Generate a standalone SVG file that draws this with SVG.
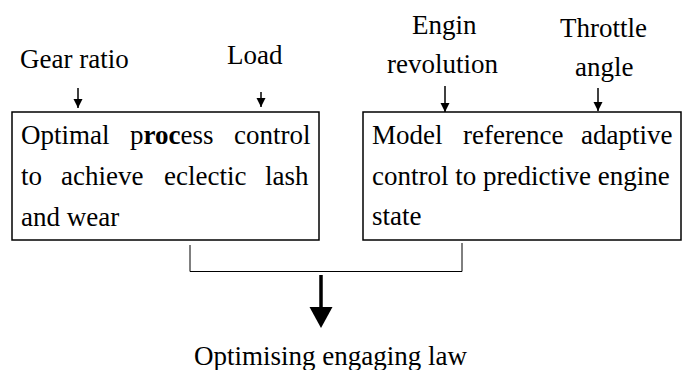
<svg xmlns="http://www.w3.org/2000/svg" width="682" height="370" viewBox="0 0 682 370">
<defs>
<marker id="ah" markerUnits="userSpaceOnUse" markerWidth="10" markerHeight="10" refX="9" refY="5" orient="auto">
<polygon points="0,0.5 9,5 0,9.5" fill="#000"/>
</marker>
<marker id="big" markerUnits="userSpaceOnUse" markerWidth="22" markerHeight="24" refX="0" refY="12" orient="auto">
<polygon points="0,0.5 21,12 0,23.5" fill="#000"/>
</marker>
</defs>
<rect width="682" height="370" fill="#fff"/>
<g id="inputs">
<text x="20" y="68" font-family="Liberation Serif" font-size="27" style="font-family:'Liberation Serif',serif">Gear ratio</text>
<text x="227" y="64" font-family="Liberation Serif" font-size="27" style="font-family:'Liberation Serif',serif">Load</text>
<text x="412" y="34" font-family="Liberation Serif" font-size="27" style="font-family:'Liberation Serif',serif">Engin</text>
<text x="387" y="73" font-family="Liberation Serif" font-size="27" style="font-family:'Liberation Serif',serif">revolution</text>
<text x="560" y="37" font-family="Liberation Serif" font-size="27" style="font-family:'Liberation Serif',serif">Throttle</text>
<text x="575" y="76" font-family="Liberation Serif" font-size="27" style="font-family:'Liberation Serif',serif">angle</text>
</g>
<g id="connectors" fill="none" stroke="#000">
<line x1="78" y1="88" x2="78" y2="108" stroke-width="1.5" marker-end="url(#ah)"/>
<line x1="261" y1="92" x2="261" y2="107" stroke-width="1.5" marker-end="url(#ah)"/>
<line x1="445" y1="86" x2="445" y2="112" stroke-width="1.5" marker-end="url(#ah)"/>
<line x1="598" y1="88" x2="598" y2="111" stroke-width="1.5" marker-end="url(#ah)"/>
<path d="M190 245 V271.5 H462 V243" stroke-width="1"/>
<line x1="321" y1="275" x2="321" y2="307" stroke-width="3.5" marker-end="url(#big)"/>
</g>
<g id="node-process">
<rect x="12" y="112" width="307" height="128" fill="#fff" stroke="#000" stroke-width="1.5"/>
<text x="21" y="144" font-family="Liberation Serif" font-size="27" style="font-family:'Liberation Serif',serif">Optimal</text>
<text x="130" y="144" font-family="Liberation Serif" font-size="27" style="font-family:'Liberation Serif',serif">p<tspan font-weight="bold">roc</tspan>ess</text>
<text x="234" y="144" font-family="Liberation Serif" font-size="27" style="font-family:'Liberation Serif',serif">control</text>
<text x="21" y="185" font-family="Liberation Serif" font-size="27" style="font-family:'Liberation Serif',serif">to</text>
<text x="61" y="185" font-family="Liberation Serif" font-size="27" style="font-family:'Liberation Serif',serif">achieve</text>
<text x="164" y="185" font-family="Liberation Serif" font-size="27" style="font-family:'Liberation Serif',serif">eclectic</text>
<text x="265" y="185" font-family="Liberation Serif" font-size="27" style="font-family:'Liberation Serif',serif">lash</text>
<text x="21" y="226" font-family="Liberation Serif" font-size="27" style="font-family:'Liberation Serif',serif">and wear</text>
</g>
<g id="node-model">
<rect x="363" y="112" width="318" height="128" fill="#fff" stroke="#000" stroke-width="1.5"/>
<text x="372" y="144" font-family="Liberation Serif" font-size="27" style="font-family:'Liberation Serif',serif">Model</text>
<text x="463" y="144" font-family="Liberation Serif" font-size="27" style="font-family:'Liberation Serif',serif">reference</text>
<text x="581" y="144" font-family="Liberation Serif" font-size="27" style="font-family:'Liberation Serif',serif">adaptive</text>
<text x="372" y="185" font-family="Liberation Serif" font-size="27" style="font-family:'Liberation Serif',serif">control to predictive engine</text>
<text x="372" y="225" font-family="Liberation Serif" font-size="27" style="font-family:'Liberation Serif',serif">state</text>
</g>
<g id="node-output">
<text x="194" y="365" font-family="Liberation Serif" font-size="27" style="font-family:'Liberation Serif',serif">Optimising engaging law</text>
</g>
</svg>
